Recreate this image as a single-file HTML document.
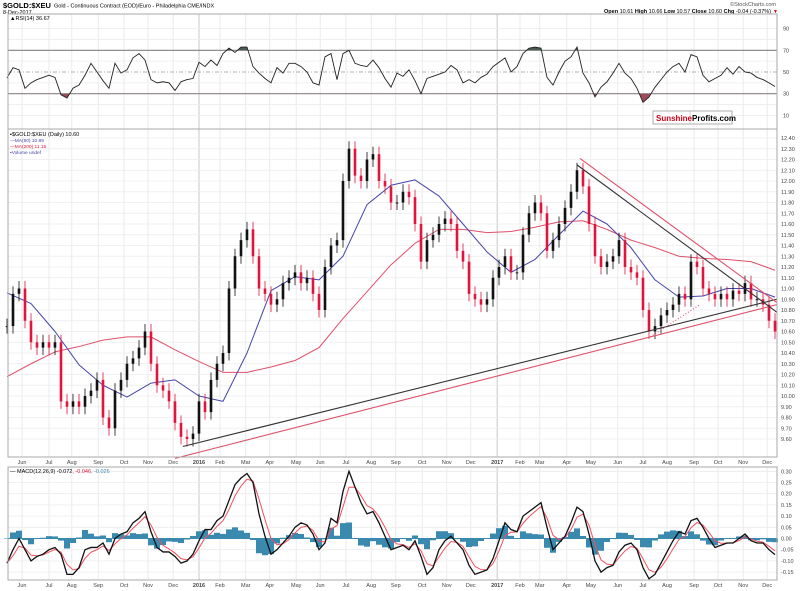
<!DOCTYPE html>
<html><head><meta charset="utf-8"><style>
html,body{margin:0;padding:0;background:#fff;}
svg{display:block;font-family:"Liberation Sans",sans-serif;}
</style></head><body>
<svg id="chart" width="800" height="591" viewBox="0 0 800 591" xmlns="http://www.w3.org/2000/svg">
<rect x="0" y="0" width="800" height="591" fill="#fff"/>
<g>
<text x="3" y="8" font-size="7.5" font-weight="bold" fill="#000">$GOLD:$XEU</text>
<text x="54" y="7.5" font-size="5.5" fill="#000">Gold - Continuous Contract (EOD)/Euro - Philadelphia CME/INDX</text>
<text x="3" y="14" font-size="5.5" fill="#000">8-Dec-2017</text>
<text x="776" y="6" font-size="5.5" fill="#555" text-anchor="end">©StockCharts.com</text>
<text x="771" y="13" font-size="5.5" fill="#000" text-anchor="end"><tspan font-weight="bold">Open</tspan> 10.61 <tspan font-weight="bold">High</tspan> 10.66 <tspan font-weight="bold">Low</tspan> 10.57 <tspan font-weight="bold">Close</tspan> 10.60 <tspan font-weight="bold">Chg</tspan> -0.04 (-0.37%)</text>
<text x="773" y="13" font-size="5" fill="#c00">▼</text>
</g>
<g id="grid"></g>
<g id="rsi"></g>
<g id="main"></g>
<g id="macd"></g>
<g id="axes"></g>
<g>
<rect x="653" y="111" width="79" height="13" fill="#fff" stroke="#999" stroke-width="0.8"/>
<line x1="690" y1="111" x2="690" y2="124" stroke="#bbb" stroke-width="0.6"/>
<text x="656" y="121" font-size="8" font-weight="bold" fill="#d0021b">Sunshine</text>
<text x="692" y="121" font-size="8" font-weight="bold" fill="#000">Profits.com</text>
</g>
</svg>
<script>
// ---- data (weekly samples, week 0 ≈ late May 2015, week 128 = 8-Dec-2017) ----
const closes=[10.65,10.95,11.0,10.7,10.5,10.45,10.5,10.45,10.5,9.95,9.9,9.95,9.9,10.0,10.05,10.15,9.8,9.7,10.05,10.15,10.3,10.35,10.45,10.6,10.3,10.1,10.05,9.95,9.75,9.62,9.6,9.65,9.95,9.85,10.15,10.3,10.4,11.0,11.3,11.45,11.55,11.3,11.0,10.95,10.85,10.9,11.05,11.1,11.15,11.05,11.1,10.95,10.8,11.2,11.4,11.45,12.0,12.3,12.05,12.0,12.2,12.25,12.0,11.95,11.8,11.8,11.9,11.85,11.6,11.25,11.45,11.5,11.6,11.65,11.6,11.35,11.25,10.95,10.9,10.85,10.9,11.1,11.2,11.3,11.15,11.15,11.5,11.7,11.8,11.7,11.35,11.45,11.6,11.75,11.9,12.1,11.95,11.6,11.3,11.2,11.25,11.3,11.45,11.2,11.15,11.1,10.8,10.6,10.65,10.75,10.8,10.85,10.95,10.9,11.25,11.2,11.0,10.95,10.9,10.95,10.9,10.98,10.95,11.05,10.9,10.9,10.85,10.7,10.6];
const ma50=[10.96,10.86,10.60,10.29,10.10,9.99,10.12,10.15,10.0,9.95,10.40,10.98,11.11,11.08,11.30,11.78,11.96,12.01,11.86,11.60,11.34,11.15,11.27,11.50,11.72,11.60,11.38,11.08,10.92,10.93,11.00,11.00,10.92];
const ma200=[10.18,10.30,10.41,10.46,10.52,10.55,10.55,10.43,10.32,10.22,10.22,10.27,10.33,10.45,10.72,10.97,11.22,11.42,11.55,11.55,11.52,11.53,11.57,11.62,11.63,11.55,11.45,11.38,11.30,11.28,11.27,11.25,11.17];
const rsi=[44.5,54,52,35,40,43,45,47,45,29,26,35,38,47,58,50,42,35,58,49,52,63,67,61,43,40,41,40,33,41,43,44,59,55,61,56,67,72,68,73,73,55,49,44,40,54,49,58,58,55,50,40,38,64,67,43,67,70,58,56,55,61,54,44,36,49,46,52,42,30,44,46,48,50,56,52,40,43,40,45,48,55,59,63,50,55,67,72,73,72,45,38,50,60,64,73,49,40,27,36,41,49,58,49,44,35,22,27,36,43,50,55,58,50,66,64,47,41,44,47,54,48,55,50,49,45,43,40,36.67];
const macd=[-0.11,-0.05,0.0,-0.05,-0.10,-0.08,-0.07,-0.05,-0.04,-0.07,-0.16,-0.16,-0.13,-0.05,-0.04,-0.04,-0.02,-0.07,0.0,0.02,0.03,0.07,0.09,0.12,0.03,-0.04,-0.06,-0.06,-0.08,-0.11,-0.10,-0.07,-0.01,0.04,0.04,0.08,0.10,0.17,0.24,0.27,0.29,0.25,0.11,0.01,-0.07,-0.05,-0.02,0.01,0.05,0.07,0.06,0.02,-0.05,-0.02,0.09,0.07,0.21,0.30,0.23,0.16,0.11,0.12,0.07,0.01,-0.05,-0.04,-0.03,-0.05,-0.01,-0.08,-0.16,-0.13,-0.05,-0.01,0.01,-0.02,-0.05,-0.12,-0.16,-0.15,-0.14,-0.09,-0.01,0.07,0.04,0.03,0.10,0.12,0.14,0.16,0.05,-0.05,-0.02,0.01,0.07,0.14,0.12,0.02,-0.10,-0.15,-0.13,-0.12,-0.06,-0.03,-0.02,-0.05,-0.13,-0.18,-0.16,-0.11,-0.06,-0.01,0.03,0.02,0.08,0.09,0.05,0.0,-0.04,-0.03,-0.02,-0.02,0.0,0.02,-0.01,-0.02,-0.02,-0.05,-0.072];
const monthLabels=["Jun","Jul","Aug","Sep","Oct","Nov","Dec","2016","Feb","Mar","Apr","May","Jun","Jul","Aug","Sep","Oct","Nov","Dec","2017","Feb","Mar","Apr","May","Jun","Jul","Aug","Sep","Oct","Nov","Dec"];
const monthWeeks=[2.5,7,10.8,15.2,19.5,23.5,27.7,32,35.5,39.8,43.8,48.2,52.2,56.5,60.7,64.8,69.2,73.3,77.3,81.7,85.5,88.8,93.3,97.3,101.8,106,110,114.5,118.5,122.7,126.7];
const priceTicks=[12.4,12.3,12.2,12.1,12.0,11.9,11.8,11.7,11.6,11.5,11.4,11.3,11.2,11.1,11.0,10.9,10.8,10.7,10.6,10.5,10.4,10.3,10.2,10.1,10.0,9.9,9.8,9.7,9.6];
const rsiTicks=[90,70,50,30,10];
const macdTicks=[0.30,0.25,0.20,0.15,0.10,0.05,0.00,-0.05,-0.10,-0.15];
// trend lines: [week, price] endpoints
const supportBlack=[[29.3,9.53],[128.3,10.90]];
const supportRed=[[28,9.42],[128.3,10.85]];
const resistRed=[[95.5,12.21],[128.3,10.87]];
const resistBlack=[[95,12.15],[128.3,10.78]];
const dottedRed=[[107.2,10.55],[115.5,10.85]];

// ---- scales ----
const L=8,R=777;
const X=w=>7+6*w;
const PY=p=>138+(12.40-p)*107.5;
const RY=v=>72+(50-v)*1.085;
const MY=v=>538.5-v*224;
const NS="http://www.w3.org/2000/svg";
function mk(tag,attrs,parent){const e=document.createElementNS(NS,tag);for(const k in attrs)e.setAttribute(k,attrs[k]);parent.appendChild(e);return e;}
const grid=document.getElementById('grid'),gR=document.getElementById('rsi'),gM=document.getElementById('main'),gD=document.getElementById('macd'),gA=document.getElementById('axes');
const panels=[[14,129],[129,457],[467,580]];

monthLabels.forEach((m,i)=>{
  const x=X(monthWeeks[i]);const yr=/^20/.test(m);
  panels.forEach(p=>{
    const l=mk('line',{x1:x,x2:x,y1:p[0],y2:p[1],stroke:yr?'#c8c8c8':'#e6e6e6','stroke-width':yr?1:0.8},grid);
    
    
  });
  [464,587].forEach(y=>{
    const t=mk('text',{x:x,y:y,'font-size':5.5,'text-anchor':'middle',fill:'#444','font-weight':yr?'bold':'normal'},gA);
    t.textContent=m;
    
    
  });
});
priceTicks.forEach(p=>{
  const y=PY(p);
  const l=mk('line',{x1:L,x2:R,y1:y,y2:y,stroke:'#ececec','stroke-width':0.8},grid);
  
  
  const t=mk('text',{x:781,y:y+2,'font-size':5.5,fill:'#444'},gA);
  t.textContent=p.toFixed(2);
  
  
});
[90,80,60,40,20,10].forEach(v=>{
  const l=mk('line',{x1:L,x2:R,y1:RY(v),y2:RY(v),stroke:'#ececec','stroke-width':0.8},grid);
  
  
});
rsiTicks.forEach(v=>{
  const t=mk('text',{x:783,y:RY(v)+2,'font-size':5.5,fill:'#444'},gA);
  t.textContent=v;
  
  
});
macdTicks.forEach(v=>{
  const l=mk('line',{x1:L,x2:R,y1:MY(v),y2:MY(v),stroke:'#ececec','stroke-width':0.8},grid);
  
  
  const t=mk('text',{x:781,y:MY(v)+2,'font-size':5.5,fill:'#444'},gA);
  t.textContent=v.toFixed(2);
  
  
});
panels.forEach(p=>{
  const r=mk('rect',{x:L,y:p[0],width:R-L,height:p[1]-p[0],fill:'none',stroke:'#aaa','stroke-width':1},gA);
  
  
});

// ---- RSI ----
[70,30].forEach(v=>{
  const l=mk('line',{x1:L,x2:R,y1:RY(v),y2:RY(v),stroke:'#888','stroke-width':1.2},gR);
  
  
});
const mid=mk('line',{x1:L,x2:R,y1:RY(50),y2:RY(50),stroke:'#999','stroke-width':0.8,'stroke-dasharray':'4,2,1,2'},gR);


const rsiPts=rsi.map((v,i)=>X(i)+','+RY(v)).join(' ');
const defs=mk('defs',{},gR);
const c1=mk('clipPath',{id:'below30'},defs);mk('rect',{x:0,y:RY(30),width:800,height:60},c1);
const c2=mk('clipPath',{id:'above70'},defs);mk('rect',{x:0,y:0,width:800,height:RY(70)},c2);
const f1=mk('polygon',{points:X(0)+','+RY(30)+' '+rsiPts+' '+X(rsi.length-1)+','+RY(30),fill:'#a04a5a','clip-path':'url(#below30)'},gR);


const f2=mk('polygon',{points:X(0)+','+RY(70)+' '+rsiPts+' '+X(rsi.length-1)+','+RY(70),fill:'#4a5a50','clip-path':'url(#above70)'},gR);


const rl=mk('polyline',{points:rsiPts,fill:'none',stroke:'#222','stroke-width':0.9},gR);


const rt=mk('text',{x:10,y:20,'font-size':5.5,fill:'#000'},gR);
rt.textContent='▲RSI(14) 36.67';



// ---- main price panel ----
const maLine=(arr,color,name)=>{
  const pts=arr.map((v,i)=>X(i*4)+','+PY(v)).join(' ');
  const l=mk('polyline',{points:pts,fill:'none',stroke:color,'stroke-width':1,'stroke-linejoin':'round'},gM);
  
  
};
maLine(ma200,'#e0506a','ma200-line');
maLine(ma50,'#4444aa','ma50-line');
closes.forEach((c,i)=>{
  const o=i?closes[i-1]:c;const up=c>=o;const col=up?'#111':'#e0143c';
  const hi=Math.max(o,c)+0.07,lo=Math.min(o,c)-0.07;
  const w=mk('line',{x1:X(i),x2:X(i),y1:PY(hi),y2:PY(lo),stroke:col,'stroke-width':0.8},gM);
  
  
  const b=mk('rect',{x:X(i)-1.3,y:PY(Math.max(o,c)),width:2.6,height:Math.max(1,Math.abs(PY(o)-PY(c))),fill:col},gM);
  
  
});
const tl=(pts,color,name,dash)=>{
  const l=mk('line',{x1:X(pts[0][0]),y1:PY(pts[0][1]),x2:X(pts[1][0]),y2:PY(pts[1][1]),stroke:color,'stroke-width':1.1},gM);
  if(dash)l.setAttribute('stroke-dasharray',dash);
  
  
};
tl(supportBlack,'#333','support-trendline-black');
tl(supportRed,'#e0506a','support-trendline-red');
tl(resistRed,'#e0506a','resistance-trendline-red');
tl(resistBlack,'#333','resistance-trendline-black');
tl(dottedRed,'#e0506a','dotted-trendline-red','1,2');
const legend=[['▪$GOLD:$XEU (Daily) 10.60','#000',136,5.5],['—MA(50) 10.89','#4444aa',142,4.8],['—MA(200) 11.15','#e0143c',148,4.8],['▪Volume undef','#4444aa',154,4.8]];
legend.forEach(a=>{
  const t=mk('text',{x:10,y:a[2],'font-size':a[3],fill:a[1]},gM);
  t.textContent=a[0];
  
  
});

// ---- MACD ----
const signal=[];macd.forEach((v,i)=>signal.push(i?signal[i-1]+0.55*(v-signal[i-1]):v));
macd.forEach((v,i)=>{
  const h=v-signal[i];
  const b=mk('rect',{x:X(i)-3,y:Math.min(MY(0),MY(h)),width:6,height:Math.max(0.5,Math.abs(MY(h)-MY(0))),fill:'#3a8ab0'},gD);
  
  
});
const zl=mk('line',{x1:L,x2:R,y1:MY(0),y2:MY(0),stroke:'#3a8ab0','stroke-width':1},gD);


const sl=mk('polyline',{points:signal.map((v,i)=>X(i)+','+MY(v)).join(' '),fill:'none',stroke:'#f05060','stroke-width':1},gD);


const ml=mk('polyline',{points:macd.map((v,i)=>X(i)+','+MY(v)).join(' '),fill:'none',stroke:'#111','stroke-width':1.3},gD);


const mt=mk('text',{x:10,y:473,'font-size':5.5},gD);
mt.innerHTML='<tspan fill="#000">— MACD(12,26,9) -0.072</tspan><tspan fill="#e0143c">, -0.046</tspan><tspan fill="#3a8ab0">, -0.026</tspan>';


</script>
</body></html>
